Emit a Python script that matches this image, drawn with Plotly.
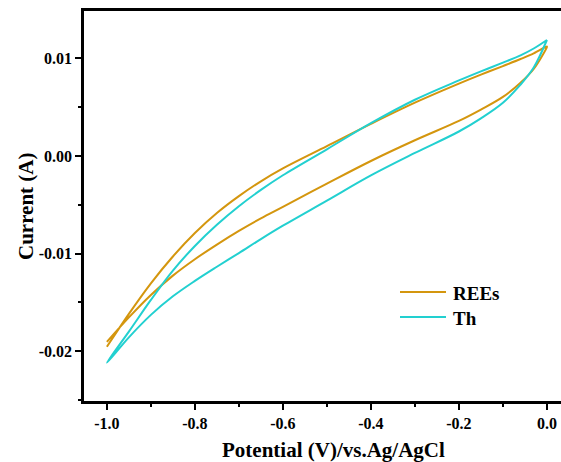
import plotly.graph_objects as go

# Potential grid (V vs Ag/AgCl) shared by both branches of each voltammogram
potential = [-1.0, -0.95, -0.9, -0.85, -0.8, -0.75, -0.7, -0.65, -0.6,
             -0.5, -0.4, -0.3, -0.2, -0.15, -0.1, -0.06, -0.03, 0.0]

# REEs: lower (forward) and upper (return) branches, current in A
rees_lower = [-0.01904, -0.01654, -0.01424, -0.01226, -0.01058, -0.00908,
              -0.00768, -0.00640, -0.00522, -0.00284, -0.00052, 0.00160,
              0.00358, 0.00474, 0.00604, 0.00750, 0.00890, 0.01116]
rees_upper = [-0.01955, -0.01618, -0.01305, -0.01030, -0.00790, -0.00585,
              -0.00412, -0.00260, -0.00128, 0.00100, 0.00328, 0.00545,
              0.00740, 0.00832, 0.00920, 0.00992, 0.01050, 0.01120]

# Th: lower (forward) and upper (return) branches, current in A
th_lower = [-0.02118, -0.01858, -0.01628, -0.01438, -0.01280, -0.01135,
            -0.00995, -0.00852, -0.00715, -0.00458, -0.00200, 0.00030,
            0.00250, 0.00385, 0.00545, 0.00730, 0.00905, 0.01187]
th_upper = [-0.02118, -0.01800, -0.01475, -0.01175, -0.00922, -0.00705,
            -0.00515, -0.00348, -0.00198, 0.00068, 0.00335, 0.00575,
            0.00773, 0.00866, 0.00955, 0.01030, 0.01100, 0.01187]

series_names = ["REEs", "Th"]
series_colors = ["#D4960E", "#22D0D0"]

x_ticks = [-1.0, -0.8, -0.6, -0.4, -0.2, 0.0]
x_tick_text = ["-1.0", "-0.8", "-0.6", "-0.4", "-0.2", "0.0"]
y_ticks = [-0.02, -0.01, 0.0, 0.01]
y_tick_text = ["-0.02", "-0.01", "0.00", "0.01"]

FONT = "Liberation Serif, Times New Roman, serif"

# Figure geometry (px) used to place the key and the axis titles
W, H = 561, 462
L, R, T, B = 84, 0, 11, 61
PW, PH = W - L - R, H - T - B


def px_x(px):
    return (px - L) / PW


def px_y(py):
    return (H - B - py) / PH


def loop(lower, upper):
    xs = potential + potential[::-1]
    ys = lower + upper[::-1]
    return xs, ys


fig = go.Figure()
for name, color, (lo, up) in zip(series_names, series_colors,
                                 [(rees_lower, rees_upper), (th_lower, th_upper)]):
    xs, ys = loop(lo, up)
    fig.add_trace(go.Scatter(
        x=xs, y=ys, mode="lines", name=name, showlegend=False,
        line=dict(color=color, width=2, shape="spline", smoothing=1.0),
    ))

axis_common = dict(
    showgrid=False, zeroline=False,
    showline=True, linecolor="black", linewidth=2.5,
    ticks="outside", ticklen=6, tickwidth=2, tickcolor="black",
    tickfont=dict(family=FONT, size=16, color="black", weight="bold"),
    minor=dict(ticks="outside", ticklen=3, tickwidth=2, tickcolor="black"),
)

fig.update_xaxes(
    range=[-1.052, 0.032], tickvals=x_ticks, ticktext=x_tick_text,
    minor_dtick=0.1, minor_tick0=-0.9, mirror=True, **axis_common,
)
fig.update_yaxes(
    range=[-0.0251, 0.01484], tickvals=y_ticks, ticktext=y_tick_text,
    minor_dtick=0.005, minor_tick0=0.005, mirror=False, **axis_common,
)

fig.add_annotation(
    text="Potential (V)/vs.Ag/AgCl", xref="paper", yref="paper",
    x=px_x(333), y=px_y(450), xanchor="center", yanchor="middle",
    showarrow=False, font=dict(family=FONT, size=21, color="black", weight="bold"),
)
fig.add_annotation(
    text="Current (A)", xref="paper", yref="paper",
    x=px_x(26), y=0.5, xanchor="center", yanchor="middle",
    textangle=-90, showarrow=False,
    font=dict(family=FONT, size=21, color="black", weight="bold"),
)

# Key: a short line sample followed by the series name
for i, (name, color) in enumerate(zip(series_names, series_colors)):
    yc = 292 + 25 * i
    fig.add_shape(
        type="line", xref="paper", yref="paper",
        x0=px_x(400), x1=px_x(446), y0=px_y(yc), y1=px_y(yc),
        line=dict(color=color, width=2),
    )
    fig.add_annotation(
        text=name, xref="paper", yref="paper",
        x=px_x(451), y=px_y(yc + 1), xanchor="left", yanchor="middle",
        showarrow=False,
        font=dict(family=FONT, size=19, color="black", weight="bold"),
    )

fig.update_layout(
    width=W, height=H,
    margin=dict(l=L, r=R, t=T, b=B),
    plot_bgcolor="white", paper_bgcolor="white",
    showlegend=False,
)

fig.write_html("out.html")
